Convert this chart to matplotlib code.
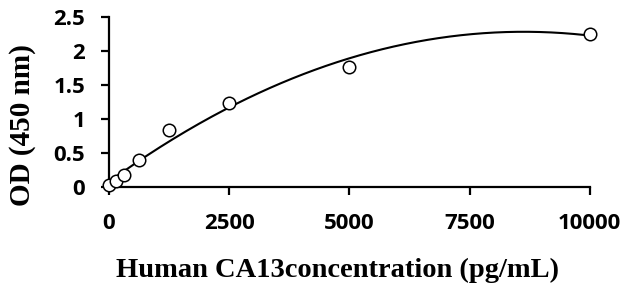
import numpy as np
import matplotlib
matplotlib.use('Agg')
import matplotlib.pyplot as plt

# standard concentrations (pg/mL) and measured OD at 450 nm
conc = [0, 156, 312, 625, 1250, 2500, 5000, 10000]
od = [0.03, 0.09, 0.18, 0.40, 0.84, 1.24, 1.77, 2.25]
xticks = [0, 2500, 5000, 7500, 10000]
yticks = [0, 0.5, 1, 1.5, 2, 2.5]
yticklabels = ['0', '0.5', '1', '1.5', '2', '2.5']

fig = plt.figure(figsize=(6.26, 2.93), dpi=100)
ax = fig.add_axes([0.174, 0.362, 0.768, 0.580])

# second order trendline through the standards
coef = np.polyfit(conc, od, 2)
xs = np.linspace(0, 10000, 300)
ax.plot(xs, np.polyval(coef, xs), color='black', lw=1.5, zorder=2)
ax.plot(conc, od, 'o', mfc='white', mec='black', ms=9, mew=1.1,
        clip_on=False, zorder=3)

ax.set_xlim(0, 10000)
ax.set_ylim(0, 2.5)
ax.set_xticks(xticks)
ax.set_xticklabels([str(t) for t in xticks])
ax.set_yticks(yticks)
ax.set_yticklabels(yticklabels)

for s in ['top', 'right']:
    ax.spines[s].set_visible(False)
for s in ['left', 'bottom']:
    ax.spines[s].set_linewidth(1.6)
ax.tick_params(direction='out', length=6, width=1.6)
ax.tick_params(axis='x', pad=13)
ax.tick_params(axis='y', pad=11)
for lab in ax.get_xticklabels() + ax.get_yticklabels():
    lab.set_fontfamily('Open Sans')
    lab.set_fontweight('bold')
    lab.set_fontsize(16)

ax.set_xlabel('Human CA13concentration (pg/mL)', fontfamily='Liberation Serif',
              fontweight='bold', fontsize=20.5)
ax.set_ylabel('OD (450 nm)', fontfamily='Liberation Serif',
              fontweight='bold', fontsize=21)
ax.xaxis.set_label_coords(0.476, -0.418)
ax.yaxis.set_label_coords(-0.152, 0.365)

fig.savefig('out.png', dpi=100)
plt.close(fig)
